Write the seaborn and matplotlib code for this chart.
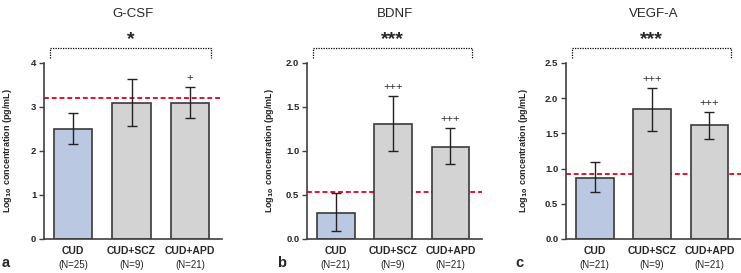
import numpy as np
import matplotlib
matplotlib.use("Agg")
import matplotlib.pyplot as plt
import matplotlib.transforms as mtransforms
import seaborn as sns

# Data
groups = ["CUD", "CUD+SCZ", "CUD+APD"]

gcsf_n = [25, 9, 21]
gcsf_mean = [2.50, 3.10, 3.10]
gcsf_lo = [2.15, 2.57, 2.76]
gcsf_hi = [2.87, 3.63, 3.45]
gcsf_ref = 3.20
gcsf_plus = ["", "", "+"]

bdnf_n = [21, 9, 21]
bdnf_mean = [0.30, 1.31, 1.05]
bdnf_lo = [0.09, 1.00, 0.85]
bdnf_hi = [0.52, 1.62, 1.26]
bdnf_ref = 0.53
bdnf_plus = ["", "+++", "+++"]

vegf_n = [21, 9, 21]
vegf_mean = [0.87, 1.84, 1.62]
vegf_lo = [0.67, 1.54, 1.42]
vegf_hi = [1.09, 2.15, 1.81]
vegf_ref = 0.93
vegf_plus = ["", "+++", "+++"]

titles = ["G-CSF", "BDNF", "VEGF-A"]
stars = ["*", "***", "***"]
letters = ["a", "b", "c"]
ytops = [4, 2.0, 2.5]
ysteps = [1, 0.5, 0.5]

sns.set_style("ticks")
plt.rcParams['font.family'] = ['Liberation Sans', 'DejaVu Sans']

W, H = 741, 273
fig = plt.figure(figsize=(W / 100, H / 100), dpi=100)

bar_colors = ["#b4c7e7", "#d3d3d3", "#d3d3d3"]
edge = "#3a3a3a"

panels = [
    (gcsf_mean, gcsf_lo, gcsf_hi, gcsf_ref, gcsf_plus, gcsf_n),
    (bdnf_mean, bdnf_lo, bdnf_hi, bdnf_ref, bdnf_plus, bdnf_n),
    (vegf_mean, vegf_lo, vegf_hi, vegf_ref, vegf_plus, vegf_n),
]
lefts = [44, 307, 566]
widths = [178, 175, 175]
ylab_x = [-0.166, -0.18, -0.208]
letter_x = [2, 277, 515]

for i, (mean, lo, hi, ref, plus, n) in enumerate(panels):
    ax = fig.add_axes([lefts[i] / W, 34 / H, widths[i] / W, 176 / H])
    mean = np.array(mean)
    lo = np.array(lo)
    hi = np.array(hi)

    ax.axhline(ref, color="#e3102e", lw=1.4, ls=(0, (2.5, 1.5)), zorder=1)
    sns.barplot(x=groups, y=mean, hue=groups, palette=bar_colors, legend=False,
                errorbar=None, width=0.66, edgecolor=edge, linewidth=1.2,
                ax=ax, zorder=2)
    ax.errorbar(np.arange(3), mean, yerr=[mean - lo, hi - mean], fmt="none",
                ecolor="#222222", elinewidth=1.0, capsize=3.8, capthick=1.0,
                zorder=3)

    for j, p in enumerate(plus):
        if p:
            ax.annotate(p, (j, hi[j]), xytext=(0, 6.5), textcoords="offset points",
                        ha="center", va="center", fontsize=8)

    ax.set_xlim(-0.5, 2.55)
    ax.set_ylim(0, ytops[i])
    ax.set_yticks(np.arange(0, ytops[i] + 1e-9, ysteps[i]))
    if i == 0:
        ax.set_yticklabels([f"{v:.0f}" for v in ax.get_yticks()])
    else:
        ax.set_yticklabels([f"{v:.1f}" for v in ax.get_yticks()])

    sns.despine(ax=ax)
    for s in ["left", "bottom"]:
        ax.spines[s].set_color("#404040")
        ax.spines[s].set_linewidth(1.2)
    ax.tick_params(axis="y", length=3.5, width=1.0, color="#404040", pad=2,
                   labelsize=6.8)
    ax.tick_params(axis="x", length=0, pad=5, labelsize=7.5)
    for t in ax.get_yticklabels() + ax.get_xticklabels():
        t.set_fontweight("bold")

    ax.set_xlabel("")
    ax.set_ylabel("Log$_{\\mathbf{10}}$ concentration (pg/mL)", fontsize=6.5,
                  fontweight="bold")
    ax.yaxis.set_label_coords(ylab_x[i], 0.5)

    trans = mtransforms.blended_transform_factory(ax.transData, ax.transAxes)
    for j, nn in enumerate(n):
        ax.text(j, -0.145, f"(N={nn})", transform=trans, ha="center",
                va="center", fontsize=7, color="#222222")

    # significance bracket
    x0, x1 = -0.39, 2.37
    ax.plot([x0, x0, x1, x1], [1.03, 1.085, 1.085, 1.03], transform=trans,
            color="black", lw=0.9, ls=(0, (1, 1)), clip_on=False)
    ax.text(0.99, 1.135, stars[i], transform=trans, ha="center", va="center",
            fontsize=14, fontweight="bold")

    ax.text(0.5, 1.278, titles[i], transform=ax.transAxes, ha="center",
            va="center", fontsize=9.5)

    fig.text(letter_x[i] / W, 10 / H, letters[i], fontsize=10.5,
             fontweight="bold", ha="left", va="center")

fig.savefig("out.png", dpi=100)
